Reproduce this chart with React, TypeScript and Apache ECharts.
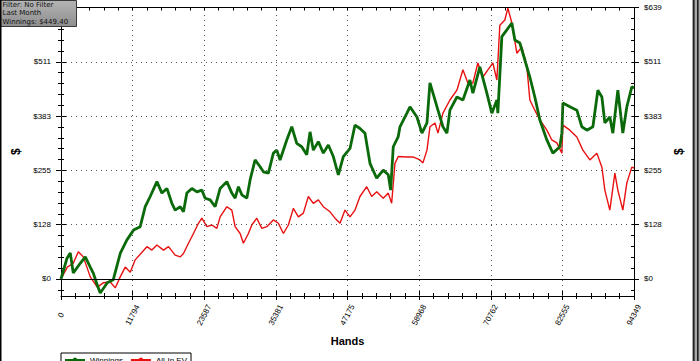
import React, { useEffect, useRef } from "react";
import * as echarts from "echarts";

const HANDS_MAX = 94349;
const Y_MIN = -40;
const Y_MAX = 638.5;

// tick label values
const xMajorTicks = [0, 11793.6, 23587.3, 35380.9, 47174.5, 58968.1, 70761.8, 82555.4, 94349];
const yMajorTicks = [0, 127.7, 255.4, 383.1, 510.8, 638.5];

// [hands, $]
const winnings: [number, number][] = [
  [0, 0], [990, 49], [1530, 61], [2020, 14], [3170, 37], [4000, 52], [4820, 28], [5310, 14], [5970, -14],
  [6460, -33], [7620, -9], [8600, -2], [9754, 60], [10856, 92], [11942, 115], [13044, 123], [13867, 170],
  [14689, 194], [15791, 229], [16614, 202], [17436, 213], [18259, 178], [18801, 162], [19644, 170],
  [20167, 158], [20726, 202], [21548, 213], [22371, 205], [23193, 209], [23736, 190], [24559, 186],
  [25381, 170], [26204, 213], [27306, 229], [28128, 202], [28671, 190], [29214, 217], [29773, 198],
  [30595, 190], [31138, 233], [31960, 280], [32783, 264], [33326, 252], [34148, 249], [34971, 296],
  [35530, 303], [36073, 280], [37175, 327], [37997, 358], [38820, 319], [39642, 311], [40465, 292],
  [41008, 346], [41550, 303], [42373, 323], [43195, 296], [44018, 315], [44840, 288], [45663, 245],
  [46485, 288], [47587, 307], [48410, 362], [49232, 354], [50055, 343], [50877, 272], [51979, 237],
  [53064, 256], [53887, 245], [54282, 209], [54710, 311], [55532, 335], [55810, 358],
  [56960, 390], [57460, 405], [58610, 381], [59430, 343], [60260, 367], [60750, 461], [61250, 437],
  [62070, 397], [62890, 358], [63550, 343], [64040, 397], [65190, 428], [66180, 421], [67330, 468],
  [67820, 437], [68970, 499], [70120, 437], [70940, 390], [71770, 421], [71930, 390], [72590, 570],
  [73410, 586], [74240, 602], [74730, 562], [75550, 555], [76380, 515], [77200, 475], [78020, 428],
  [78850, 374], [80000, 327], [80990, 296], [82140, 311], [82470, 343], [82640, 414], [83790, 405],
  [84940, 397], [85760, 358], [86590, 350], [87580, 358], [88400, 444], [89060, 428], [89550, 367],
  [90370, 381], [90870, 343], [91690, 444], [92510, 343], [93170, 405], [93990, 452], [94349, 449.4],
];

const allInEV: [number, number][] = [
  [0, 0], [1040, 28], [2020, 37], [2850, 64], [3670, 52], [4820, 5], [5970, -19], [6960, -9], [8110, -7],
  [8930, -21], [9750, 5], [10580, 28], [11400, 16], [12222, 45], [14146, 76], [14969, 68], [15791, 80],
  [16877, 68], [17699, 76], [18801, 56], [19644, 52], [20167, 60], [20989, 84], [21812, 107],
  [22634, 131], [23193, 143], [24016, 123], [24838, 127], [25660, 119], [26204, 146], [27306, 170],
  [28128, 162], [28671, 123], [29494, 107], [30036, 84], [30858, 107], [31418, 127], [32240, 143],
  [33063, 119], [33885, 123], [34971, 139], [35793, 131], [36616, 107], [37438, 127], [38260, 166],
  [39083, 146], [39906, 155], [40728, 194], [41550, 178], [42373, 186], [43195, 170], [44297, 158],
  [45119, 143], [45941, 131], [46764, 162], [47587, 146], [48410, 162], [49232, 194], [50334, 217],
  [51157, 194], [51979, 205], [53064, 190], [53887, 202], [54446, 178], [54989, 272], [55532, 288],
  [56960, 287], [57950, 287], [59100, 280], [59590, 273], [60260, 303], [60750, 358], [61580, 367],
  [62070, 343], [62890, 390], [64040, 421], [65190, 444], [66180, 492], [67000, 461], [67820, 461],
  [68640, 508], [69470, 475], [70290, 492], [71110, 508], [71770, 468], [72260, 597], [73080, 609],
  [73580, 637], [74240, 602], [75060, 531], [75880, 546], [76710, 499], [77200, 421], [78020, 397],
  [78850, 374], [80000, 350], [80820, 327], [81640, 320], [82470, 296], [82640, 362], [83790, 350],
  [84940, 334], [85930, 303], [87080, 280], [88230, 296], [89060, 263], [89550, 209], [90370, 162],
  [91200, 249], [91690, 209], [92510, 162], [93170, 226], [93990, 263], [94349, 261],
];

const infoLines = ["Filter: No Filter", "Last Month", "Winnings: $449.40"];
const seriesNames = ["Winnings", "All-In EV"];

const FONT = "'Liberation Sans', Arial, sans-serif";
const INFO_FONT = "'DejaVu Sans', Verdana, sans-serif";

function minors(majors: number[], parts: number, below: boolean): number[] {
  const out: number[] = [];
  for (let i = 0; i < majors.length - 1; i++) {
    const a = majors[i];
    const b = majors[i + 1];
    for (let k = 0; k < parts; k++) out.push(a + ((b - a) * k) / parts);
  }
  out.push(majors[majors.length - 1]);
  if (below) out.unshift(majors[0] - (majors[1] - majors[0]) / parts);
  return out;
}

export default function App() {
  const ref = useRef<HTMLDivElement>(null);

  useEffect(() => {
    if (!ref.current) return;
    const chart = echarts.init(ref.current, undefined, { renderer: "svg" });

    const yMinor = minors(yMajorTicks, 5, true);
    const xMinor = minors(xMajorTicks, 5, false);

    const yBase = (position: string, extra: any) => ({
      type: "value",
      position,
      min: Y_MIN,
      max: Y_MAX,
      splitLine: { show: false },
      axisLine: { show: false, lineStyle: { color: "#000" } },
      axisLabel: { show: false },
      axisTick: { show: false },
      ...extra,
    });
    const tick = (values: number[], length: number, inside: boolean) => ({
      show: true,
      customValues: values,
      length,
      inside,
      lineStyle: { color: "#000", width: 1 },
    });
    const yLabel = (values: number[], margin: number) => ({
      show: true,
      customValues: values,
      formatter: (v: number) => "$" + Math.round(v),
      margin,
      fontSize: 8,
      color: "#000",
      fontFamily: FONT,
    });
    const yName = (gap: number) => ({
      name: "$",
      nameLocation: "middle",
      nameGap: gap,
      nameRotate: 90,
      nameTextStyle: {
        fontWeight: "bold",
        fontSize: 12,
        color: "#000",
        fontFamily: FONT,
        align: "center",
        verticalAlign: "middle",
      },
    });

    const yAxis = [
      yBase("left", {
        axisLine: { show: true, onZero: false, lineStyle: { color: "#000", width: 1 } },
        axisTick: tick(yMajorTicks, 5, false),
        // the top label on the left sits under the info box, so it is not drawn
        axisLabel: yLabel(yMajorTicks.slice(0, -1), 10),
        ...yName(43),
      }),
      yBase("left", { axisTick: tick(yMinor, 3, false) }),
      yBase("left", { axisTick: tick(yMajorTicks, 5, true) }),
      yBase("left", { axisTick: tick(yMinor, 3, true) }),
      yBase("right", {
        axisLine: { show: true, onZero: false, lineStyle: { color: "#000", width: 1 } },
        axisTick: tick(yMajorTicks, 5, false),
        axisLabel: yLabel(yMajorTicks, 10),
        ...yName(42),
      }),
      yBase("right", { axisTick: tick(yMinor, 3, false) }),
      yBase("right", { axisTick: tick(yMajorTicks, 5, true) }),
      yBase("right", { axisTick: tick(yMinor, 3, true) }),
    ];

    const xBase = (position: string, extra: any) => ({
      type: "value",
      position,
      min: 0,
      max: HANDS_MAX,
      splitLine: { show: false },
      axisLine: { show: false, onZero: false, lineStyle: { color: "#000" } },
      axisLabel: { show: false },
      axisTick: { show: false },
      ...extra,
    });

    const xAxis = [
      xBase("bottom", {
        axisLine: { show: true, onZero: false, lineStyle: { color: "#000", width: 1 } },
        axisTick: tick(xMajorTicks, 4, false),
        axisLabel: {
          show: true,
          customValues: xMajorTicks,
          formatter: (v: number) => String(Math.round(v)),
          rotate: 62,
          align: "center",
          verticalAlign: "middle",
          margin: 19,
          fontSize: 8,
          color: "#000",
          fontFamily: FONT,
        },
        name: "Hands",
        nameLocation: "middle",
        nameGap: 45,
        nameTextStyle: {
          fontWeight: "bold",
          fontSize: 11,
          color: "#000",
          fontFamily: FONT,
          align: "center",
          verticalAlign: "middle",
        },
      }),
      xBase("bottom", { axisTick: tick(xMinor, 3, false) }),
      xBase("bottom", { axisTick: tick(xMajorTicks, 5, true) }),
      xBase("bottom", { axisTick: tick(xMinor, 3, true) }),
      xBase("top", {
        axisLine: { show: true, onZero: false, lineStyle: { color: "#000", width: 1 } },
        axisTick: tick(xMinor, 3, true),
      }),
    ];

    const dotted = { color: "#555", width: 1, type: [1, 4] as any };
    const gridMarks: any[] = [];
    yMajorTicks.slice(1, -1).forEach((v) => gridMarks.push({ yAxis: v, lineStyle: dotted }));
    xMajorTicks.slice(1, -1).forEach((v) => gridMarks.push({ xAxis: v, lineStyle: dotted }));
    gridMarks.push({ yAxis: 0, lineStyle: { color: "#000", width: 1, type: "solid" } });

    chart.setOption({
      animation: false,
      backgroundColor: "#fff",
      grid: {
        left: 61,
        right: 66,
        top: 7.5,
        bottom: 65,
        containLabel: false,
        outerBoundsMode: "none",
      },
      xAxis,
      yAxis,
      legend: {
        data: seriesNames,
        left: 61,
        top: 353,
        orient: "horizontal",
        padding: [3, 4, 3, 3],
        itemGap: 7,
        itemWidth: 20,
        itemHeight: 6,
        borderColor: "#000",
        borderWidth: 1,
        borderRadius: 0,
        backgroundColor: "#fff",
        textStyle: { fontSize: 8, color: "#000", fontFamily: FONT },
      },
      series: [
        {
          name: seriesNames[1],
          type: "line",
          xAxisIndex: 0,
          yAxisIndex: 0,
          data: allInEV,
          symbol: "none",
          showSymbol: false,
          z: 3,
          lineStyle: { color: "#e81010", width: 1.4 },
          itemStyle: { color: "#e81010" },
          markLine: {
            silent: true,
            symbol: ["none", "none"],
            label: { show: false },
            data: gridMarks,
            animation: false,
          },
        },
        {
          name: seriesNames[0],
          type: "line",
          xAxisIndex: 0,
          yAxisIndex: 0,
          data: winnings,
          symbol: "none",
          showSymbol: false,
          z: 4,
          lineStyle: { color: "#0a6a0a", width: 2.8 },
          itemStyle: { color: "#0a6a0a" },
        },
      ],
      graphic: [
        {
          type: "rect",
          z: 100,
          shape: { x: 0.5, y: 0.5, width: 76, height: 26 },
          style: {
            fill: new echarts.graphic.LinearGradient(0, 0, 0, 1, [
              { offset: 0, color: "#b4b4b4" },
              { offset: 1, color: "#8e8e8e" },
            ]),
            stroke: "#3a3a3a",
            lineWidth: 1,
          },
        },
        ...infoLines.map((t, i) => ({
          type: "text",
          z: 101,
          x: 2.5,
          y: 1.2 + i * 8.6,
          style: {
            text: t,
            fontSize: 7,
            fontFamily: INFO_FONT,
            fill: "#111",
            verticalAlign: "top",
            align: "left",
          },
        })),
        { type: "rect", z: 100, shape: { x: 0, y: 0, width: 1.5, height: 361 }, style: { fill: "#000" } },
        { type: "rect", z: 100, shape: { x: 692, y: 0, width: 8, height: 361 }, style: { fill: "#a8a8a8" } },
        { type: "rect", z: 100, shape: { x: 693, y: 0, width: 1.6, height: 361 }, style: { fill: "#222" } },
        { type: "rect", z: 100, shape: { x: 697, y: 0, width: 1.6, height: 361 }, style: { fill: "#222" } },
      ],
    });

    return () => chart.dispose();
  }, []);

  return (
    <div
      ref={ref}
      style={{ position: "fixed", left: 0, top: 0, width: 700, height: 361, background: "#fff" }}
    />
  );
}
